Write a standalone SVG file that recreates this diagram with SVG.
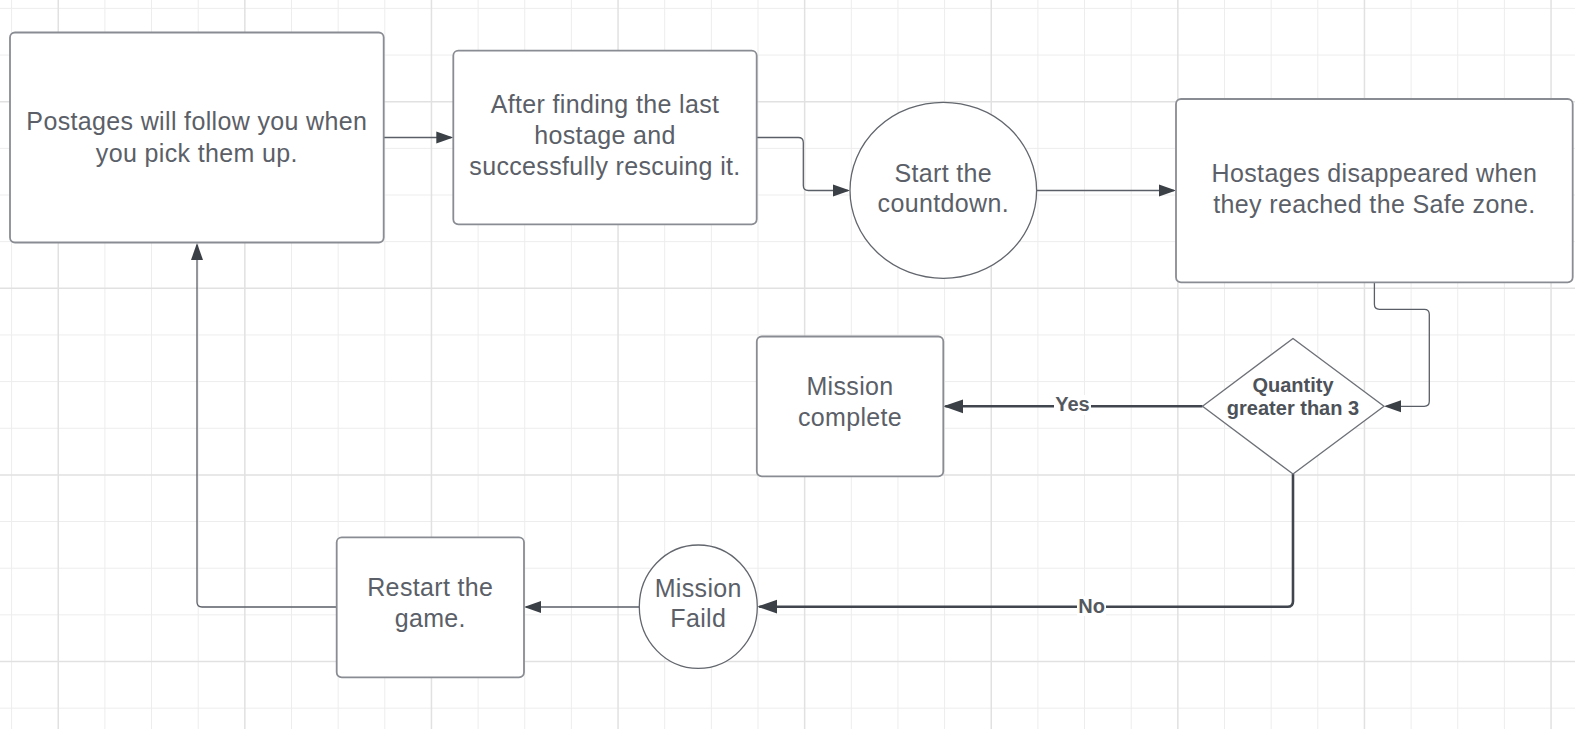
<svg xmlns="http://www.w3.org/2000/svg" width="1575" height="729" viewBox="0 0 1575 729">
  <style>
    .grid-minor { stroke: #ededed; stroke-width: 1; fill: none; }
    .grid-major { stroke: #e1e1e1; stroke-width: 1.5; fill: none; }
    .box { fill: #ffffff; stroke: #898c92; stroke-width: 1.8; }
    .round { fill: #ffffff; stroke: #62666d; stroke-width: 1.3; }
    .decision { fill: #ffffff; stroke: #6e7278; stroke-width: 1.4; stroke-linejoin: round; }
    .label { font-family: "Liberation Sans", Arial, sans-serif; font-size: 25px; letter-spacing: 0.35px; fill: #5b6068; text-anchor: middle; }
    .label-bold { font-family: "Liberation Sans", Arial, sans-serif; font-size: 20px; font-weight: bold; fill: #4d5259; text-anchor: middle; }
    .edge { fill: none; stroke: #5a5f67; stroke-width: 1.3; }
    .edge-strong { fill: none; stroke: #41464e; stroke-width: 2.6; }
    .edge-text { font-family: "Liberation Sans", Arial, sans-serif; font-size: 20px; font-weight: bold; fill: #545960; text-anchor: middle; }
  </style>
  <defs>
    <marker id="arrow" markerUnits="userSpaceOnUse" markerWidth="18" markerHeight="13" refX="15" refY="6.5" orient="auto">
      <path d="M0,0.5 L17,6.5 L0,12.5 z" fill="#3b4047"/>
    </marker>
    <marker id="arrow-strong" markerUnits="userSpaceOnUse" markerWidth="21" markerHeight="15" refX="18" refY="7.5" orient="auto">
      <path d="M0,0.5 L20,7.5 L0,14.5 z" fill="#3b4047"/>
    </marker>
  </defs>

  <!-- canvas and grid -->
  <rect x="0" y="0" width="1575" height="729" fill="#ffffff"/>
  <g id="grid">
    <path class="grid-minor" d="M11.6 0V729 M104.9 0V729 M151.55 0V729 M198.2 0V729 M291.5 0V729 M338.15 0V729 M384.8 0V729 M478.1 0V729 M524.75 0V729 M571.4 0V729 M664.7 0V729 M711.35 0V729 M758 0V729 M851.3 0V729 M897.95 0V729 M944.6 0V729 M1037.9 0V729 M1084.55 0V729 M1131.2 0V729 M1224.5 0V729 M1271.15 0V729 M1317.8 0V729 M1411.1 0V729 M1457.75 0V729 M1504.4 0V729"/>
    <path class="grid-minor" d="M0 8.4H1575 M0 55.05H1575 M0 148.35H1575 M0 195H1575 M0 241.65H1575 M0 334.95H1575 M0 381.6H1575 M0 428.25H1575 M0 521.55H1575 M0 568.2H1575 M0 614.85H1575 M0 708.15H1575"/>
    <path class="grid-major" d="M58.25 0V729 M244.85 0V729 M431.45 0V729 M618.05 0V729 M804.65 0V729 M991.25 0V729 M1177.85 0V729 M1364.45 0V729 M1551.05 0V729"/>
    <path class="grid-major" d="M0 101.7H1575 M0 288.3H1575 M0 474.9H1575 M0 661.5H1575"/>
  </g>

  <!-- connectors -->
  <g id="connectors">
    <path class="edge" d="M383.7 137.5 H451.3" marker-end="url(#arrow)"/>
    <path class="edge" d="M756.7 137.5 H798.3 Q803.3 137.5 803.3 142.5 V185.5 Q803.3 190.5 808.3 190.5 H848" marker-end="url(#arrow)"/>
    <path class="edge" d="M1036.7 190.5 H1174" marker-end="url(#arrow)"/>
    <path class="edge" d="M1374.4 282.3 V304.3 Q1374.4 309.3 1379.4 309.3 H1424.3 Q1429.3 309.3 1429.3 314.3 V401.3 Q1429.3 406.3 1424.3 406.3 H1386" marker-end="url(#arrow)"/>
    <path class="edge-strong" d="M1202.5 406.3 H945.3" marker-end="url(#arrow-strong)"/>
    <path class="edge-strong" d="M1293 474 V601.2 Q1293 606.7 1287.5 606.7 H759.3" marker-end="url(#arrow-strong)"/>
    <path class="edge" d="M639.3 607 H526" marker-end="url(#arrow)"/>
    <path class="edge" d="M336.7 607 H202 Q197 607 197 602 V245" marker-end="url(#arrow)"/>
    <g id="label-yes">
      <rect x="1054" y="395" width="37" height="20" fill="#ffffff"/>
      <text class="edge-text" x="1072.5" y="411">Yes</text>
    </g>
    <g id="label-no">
      <rect x="1077" y="596" width="29" height="20" fill="#ffffff"/>
      <text class="edge-text" x="1091.7" y="612.7">No</text>
    </g>
  </g>

  <!-- nodes -->
  <g id="node-follow">
    <rect class="box" x="10" y="32.5" width="373.7" height="210" rx="5"/>
    <text class="label" x="196.8" y="129.5">Postages will follow you when</text>
    <text class="label" x="196.8" y="161.5">you pick them up.</text>
  </g>
  <g id="node-last-hostage">
    <rect class="box" x="453.3" y="50.7" width="303.4" height="173.6" rx="5"/>
    <text class="label" x="605" y="113.3">After finding the last</text>
    <text class="label" x="605" y="144.3">hostage and</text>
    <text class="label" x="605" y="175.3">successfully rescuing it.</text>
  </g>
  <g id="node-countdown">
    <ellipse class="round" cx="943.3" cy="190.3" rx="93.3" ry="88"/>
    <text class="label" x="943.3" y="181.7">Start the</text>
    <text class="label" x="943.3" y="212">countdown.</text>
  </g>
  <g id="node-safe-zone">
    <rect class="box" x="1176" y="99" width="396.7" height="183.3" rx="5"/>
    <text class="label" x="1374.4" y="181.7">Hostages disappeared when</text>
    <text class="label" x="1374.4" y="213.3">they reached the Safe zone.</text>
  </g>
  <g id="node-quantity">
    <path class="decision" d="M1293 338.5 L1384 406.3 L1293 474 L1202.5 406.3 Z"/>
    <text class="label-bold" x="1293" y="391.7">Quantity</text>
    <text class="label-bold" x="1293" y="415">greater than 3</text>
  </g>
  <g id="node-complete">
    <rect class="box" x="756.8" y="336.5" width="186.5" height="139.8" rx="5"/>
    <text class="label" x="850" y="395">Mission</text>
    <text class="label" x="850" y="426">complete</text>
  </g>
  <g id="node-failed">
    <ellipse class="round" cx="698.3" cy="606.7" rx="59" ry="61.7"/>
    <text class="label" x="698.3" y="596.7">Mission</text>
    <text class="label" x="698.3" y="626.7">Faild</text>
  </g>
  <g id="node-restart">
    <rect class="box" x="336.7" y="537.3" width="187.3" height="140" rx="5"/>
    <text class="label" x="430.3" y="596">Restart the</text>
    <text class="label" x="430.3" y="626.7">game.</text>
  </g>
</svg>
